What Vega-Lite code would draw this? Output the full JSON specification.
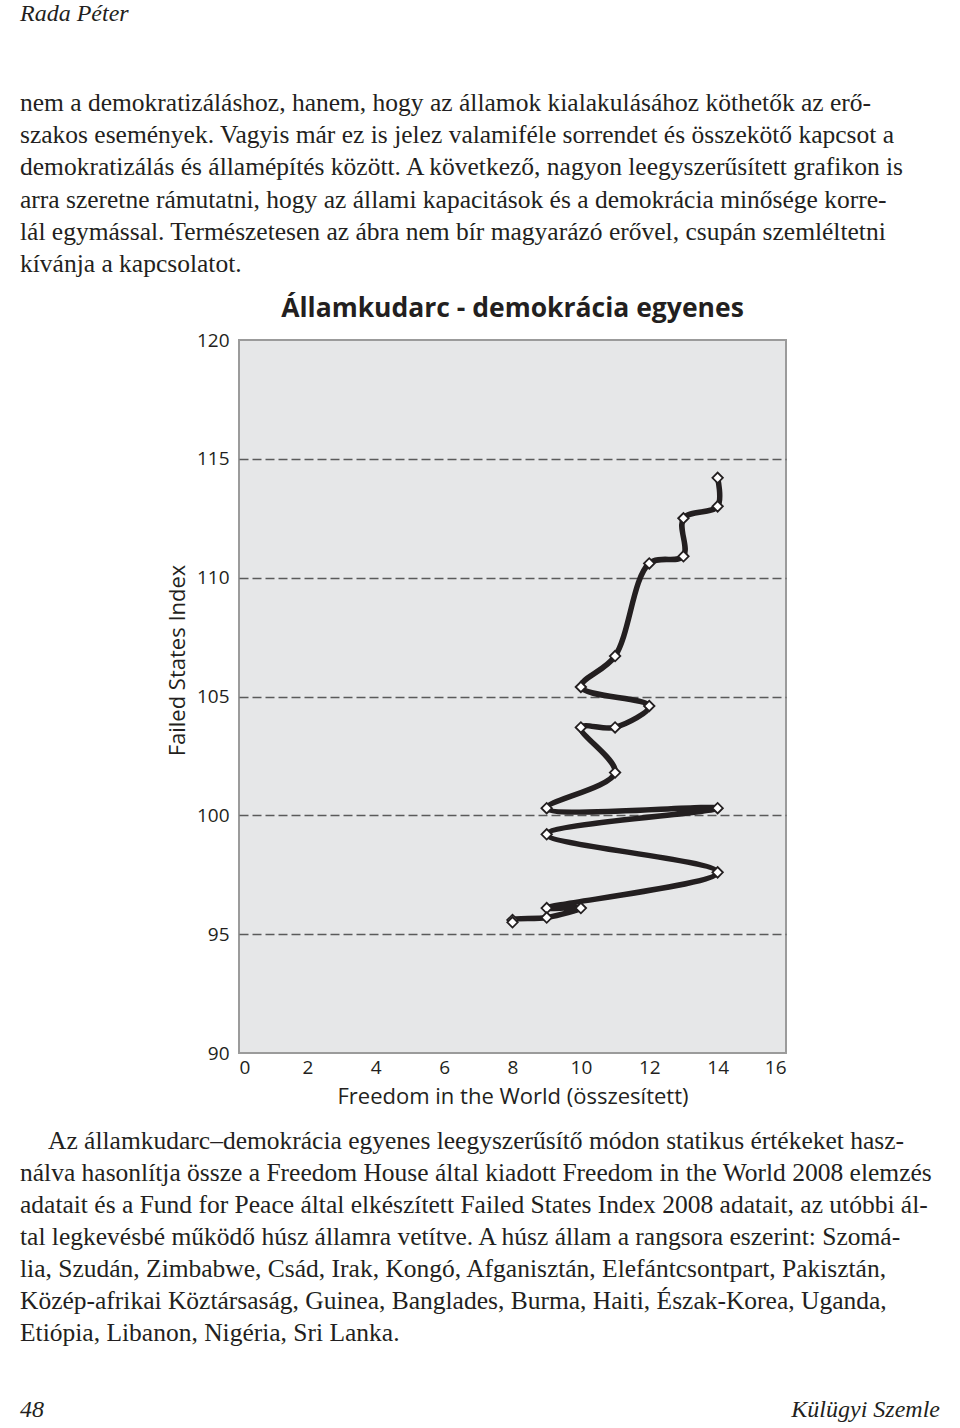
{
  "$schema": "https://vega.github.io/schema/vega-lite/v6.json",
  "padding": {"left": 20, "top": 0, "right": 0, "bottom": 0},
  "background": "white",
  "bounds": "flush",
  "spacing": 0,
  "config": {
    "view": {"stroke": null},
    "text": {"color": "#231f20"}
  },
  "datasets": {
    "header": [{"text": "Rada Péter"}],
    "intro": [
      {"line": 0, "text": "nem a demokratizáláshoz, hanem, hogy az államok kialakulásához köthetők az erő-"},
      {"line": 1, "text": "szakos események. Vagyis már ez is jelez valamiféle sorrendet és összekötő kapcsot a"},
      {"line": 2, "text": "demokratizálás és államépítés között. A következő, nagyon leegyszerűsített grafikon is"},
      {"line": 3, "text": "arra szeretne rámutatni, hogy az állami kapacitások és a demokrácia minősége korre-"},
      {"line": 4, "text": "lál egymással. Természetesen az ábra nem bír magyarázó erővel, csupán szemléltetni"},
      {"line": 5, "text": "kívánja a kapcsolatot."}
    ],
    "fsi": [
      {"rank": 1, "country": "Szomália", "fh": 14, "fsi": 114.2},
      {"rank": 2, "country": "Szudán", "fh": 14, "fsi": 113.0},
      {"rank": 3, "country": "Zimbabwe", "fh": 13, "fsi": 112.5},
      {"rank": 4, "country": "Csád", "fh": 13, "fsi": 110.9},
      {"rank": 5, "country": "Irak", "fh": 12, "fsi": 110.6},
      {"rank": 6, "country": "Kongó", "fh": 11, "fsi": 106.7},
      {"rank": 7, "country": "Afganisztán", "fh": 10, "fsi": 105.4},
      {"rank": 8, "country": "Elefántcsontpart", "fh": 12, "fsi": 104.6},
      {"rank": 9, "country": "Pakisztán", "fh": 11, "fsi": 103.7},
      {"rank": 10, "country": "Közép-afrikai Köztársaság", "fh": 10, "fsi": 103.7},
      {"rank": 11, "country": "Guinea", "fh": 11, "fsi": 101.8},
      {"rank": 12, "country": "Banglades", "fh": 9, "fsi": 100.3},
      {"rank": 13, "country": "Burma", "fh": 14, "fsi": 100.3},
      {"rank": 14, "country": "Haiti", "fh": 9, "fsi": 99.2},
      {"rank": 15, "country": "Észak-Korea", "fh": 14, "fsi": 97.6},
      {"rank": 16, "country": "Uganda", "fh": 9, "fsi": 96.1},
      {"rank": 17, "country": "Etiópia", "fh": 10, "fsi": 96.1},
      {"rank": 18, "country": "Libanon", "fh": 9, "fsi": 95.7},
      {"rank": 19, "country": "Nigéria", "fh": 8, "fsi": 95.6},
      {"rank": 20, "country": "Sri Lanka", "fh": 8, "fsi": 95.5}
    ],
    "caption": [
      {"line": 0, "text": "Az államkudarc–demokrácia egyenes leegyszerűsítő módon statikus értékeket hasz-"},
      {"line": 1, "text": "nálva hasonlítja össze a Freedom House által kiadott Freedom in the World 2008 elemzés"},
      {"line": 2, "text": "adatait és a Fund for Peace által elkészített Failed States Index 2008 adatait, az utóbbi ál-"},
      {"line": 3, "text": "tal legkevésbé működő húsz államra vetítve. A húsz állam a rangsora eszerint: Szomá-"},
      {"line": 4, "text": "lia, Szudán, Zimbabwe, Csád, Irak, Kongó, Afganisztán, Elefántcsontpart, Pakisztán,"},
      {"line": 5, "text": "Közép-afrikai Köztársaság, Guinea, Banglades, Burma, Haiti, Észak-Korea, Uganda,"},
      {"line": 6, "text": "Etiópia, Libanon, Nigéria, Sri Lanka."}
    ],
    "footer": [{"side": "left", "text": "48"}, {"side": "right", "text": "Külügyi Szemle"}]
  },
  "vconcat": [
    {
      "width": 547,
      "height": 14,
      "data": {"name": "header"},
      "mark": {"type": "text", "align": "left", "baseline": "middle", "font": "Liberation Serif", "fontStyle": "italic", "fontSize": 24},
      "encoding": {
        "x": {"datum": 0, "type": "quantitative", "scale": {"domain": [0, 1], "range": [-219, 701]}, "axis": null},
        "y": {"datum": 0, "type": "quantitative", "scale": {"domain": [0, 1]}, "axis": null},
        "text": {"field": "text"}
      }
    },
    {
      "width": 547,
      "height": 326,
      "data": {"name": "intro"},
      "mark": {"type": "text", "align": "left", "baseline": "middle", "font": "Liberation Serif", "fontSize": 25.5},
      "encoding": {
        "x": {"datum": 0, "type": "quantitative", "scale": {"domain": [0, 1], "range": [-219, 701]}, "axis": null},
        "y": {"field": "line", "type": "quantitative", "scale": {"domain": [0, 5], "range": [89, 250]}, "axis": null},
        "text": {"field": "text"}
      }
    },
    {
      "width": 547,
      "height": 713,
      "data": {"name": "fsi"},
      "title": {"text": "Államkudarc - demokrácia egyenes", "font": "Open Sans", "fontSize": 26.5, "fontWeight": "bold", "color": "#231f20", "anchor": "middle", "offset": 9},
      "view": {"fill": "#e6e7e8", "stroke": "#9b9b9b", "strokeWidth": 2},
      "encoding": {
        "x": {
          "field": "fh", "type": "quantitative",
          "scale": {"domain": [0, 16], "nice": false, "zero": false},
          "axis": {
            "values": [0, 2, 4, 6, 8, 10, 12, 14, 16],
            "title": "Freedom in the World (összesített)",
            "grid": false, "ticks": false, "domain": false,
            "labelFont": "Open Sans", "labelFontSize": 19, "labelColor": "#231f20", "labelPadding": 5,
            "labelOverlap": false,
            "titleFont": "Open Sans", "titleFontSize": 22, "titleFontWeight": "normal", "titleColor": "#231f20", "titlePadding": 9
          }
        },
        "y": {
          "field": "fsi", "type": "quantitative",
          "scale": {"domain": [90, 120], "nice": false, "zero": false},
          "axis": {
            "values": [90, 95, 100, 105, 110, 115, 120],
            "title": "Failed States Index",
            "grid": true, "gridDash": [9, 4], "gridColor": "#5a5a5a", "gridWidth": 1.5,
            "gridOpacity": {"condition": {"test": "datum.value == 90 || datum.value == 120", "value": 0}, "value": 1},
            "ticks": false, "domain": false,
            "labelFont": "Open Sans", "labelFontSize": 19, "labelColor": "#231f20", "labelPadding": 10,
            "labelOverlap": false,
            "titleFont": "Open Sans", "titleFontSize": 22, "titleFontWeight": "normal", "titleColor": "#231f20", "titlePadding": 7,
            "titleY": 320
          }
        }
      },
      "layer": [
        {
          "mark": {"type": "line", "interpolate": "catmull-rom", "stroke": "#231f20", "strokeWidth": 5.5, "strokeJoin": "round", "strokeCap": "round"},
          "encoding": {"order": {"field": "rank", "type": "quantitative"}}
        },
        {
          "mark": {"type": "point", "shape": "diamond", "filled": true, "fill": "white", "stroke": "#231f20", "strokeWidth": 1.8, "size": 110, "opacity": 1}
        }
      ]
    },
    {
      "width": 547,
      "height": 280,
      "data": {"name": "caption"},
      "encoding": {
        "x": {"datum": 0, "type": "quantitative", "scale": {"domain": [0, 1], "range": [-219, 701]}, "axis": null},
        "y": {"field": "line", "type": "quantitative", "scale": {"domain": [0, 6], "range": [88, 280]}, "axis": null},
        "text": {"field": "text"}
      },
      "layer": [
        {
          "transform": [{"filter": "datum.line == 0"}],
          "mark": {"type": "text", "align": "left", "baseline": "middle", "font": "Liberation Serif", "fontSize": 25.5, "dx": 28}
        },
        {
          "transform": [{"filter": "datum.line > 0"}],
          "mark": {"type": "text", "align": "left", "baseline": "middle", "font": "Liberation Serif", "fontSize": 25.5}
        }
      ]
    },
    {
      "width": 547,
      "height": 77,
      "data": {"name": "footer"},
      "encoding": {
        "y": {"datum": 0, "type": "quantitative", "scale": {"domain": [0, 1]}, "axis": null},
        "text": {"field": "text"}
      },
      "layer": [
        {
          "transform": [{"filter": "datum.side == 'left'"}],
          "mark": {"type": "text", "align": "left", "baseline": "middle", "font": "Liberation Serif", "fontStyle": "italic", "fontSize": 24},
          "encoding": {"x": {"datum": 0, "type": "quantitative", "scale": {"domain": [0, 1], "range": [-219, 701]}, "axis": null}}
        },
        {
          "transform": [{"filter": "datum.side == 'right'"}],
          "mark": {"type": "text", "align": "right", "baseline": "middle", "font": "Liberation Serif", "fontStyle": "italic", "fontSize": 24},
          "encoding": {"x": {"datum": 1, "type": "quantitative", "scale": {"domain": [0, 1], "range": [-219, 701]}, "axis": null}}
        }
      ]
    }
  ]
}
